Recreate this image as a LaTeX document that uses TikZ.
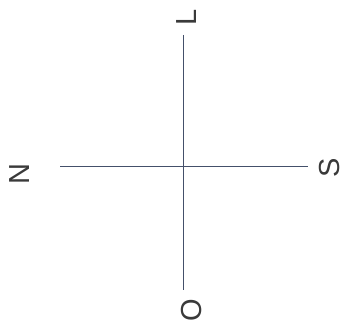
\documentclass[tikz,border=0pt]{standalone}
\usepackage{fontspec}
\setmainfont{Liberation Sans}
\definecolor{axis}{HTML}{44506A}
\definecolor{ink}{HTML}{3A3A3A}
\begin{document}
\begin{tikzpicture}[x=1pt,y=1pt,
  letter/.style={text=ink,font=\fontsize{29}{29}\selectfont,rotate=90,inner sep=0pt,
    text height=21pt,text depth=0pt},
  axisline/.style={draw=axis,line width=0.9pt}]
\useasboundingbox (0,0) rectangle (346,322);
\coordinate (top) at (183,287);
\coordinate (bottom) at (183,32);
\coordinate (left) at (60,156);
\coordinate (right) at (308,156);
\draw[axisline] (top) -- (bottom);
\draw[axisline] (left) -- (right);
\node[letter] (L) at (186,305) {L};
\node[letter] (N) at (19,148) {N};
\node[letter] (S) at (329,154) {S};
\node[letter] (O) at (191,12) {O};
\end{tikzpicture}
\end{document}
